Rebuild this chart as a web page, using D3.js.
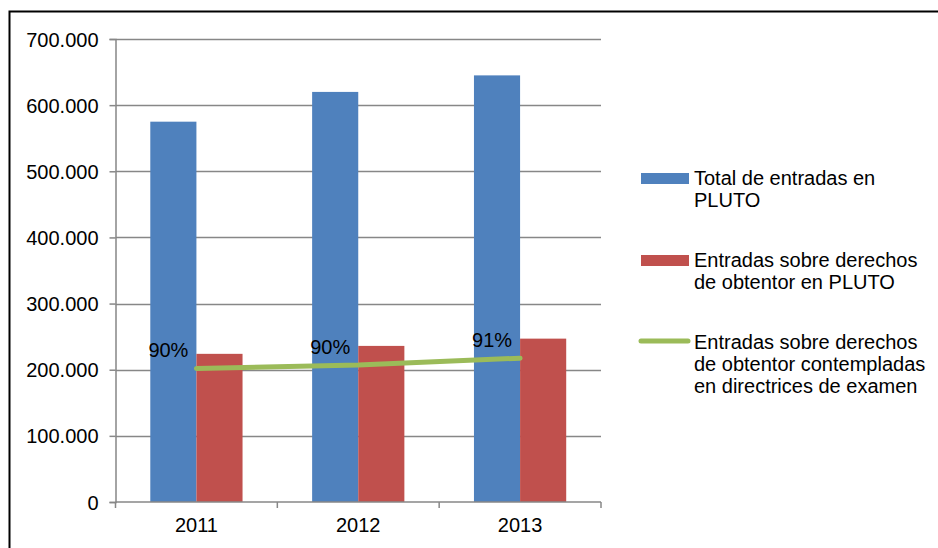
<!DOCTYPE html>
<html>
<head>
<meta charset="utf-8">
<script src="https://cdn.jsdelivr.net/npm/d3@7"></script>
<style>
  html, body { margin: 0; padding: 0; background: #fff; }
  svg { display: block; font-family: "Liberation Sans", Arial, sans-serif; }
</style>
</head>
<body>
<svg id="chart" width="938" height="548"></svg>
<script>
// ---- data ----
const years = ["2011", "2012", "2013"];
const totalEntries = [575000, 620000, 645000];
const pbrEntries = [224000, 236000, 247000];
const tgEntries = [202000, 207000, 217500];
const tgLabels = ["90%", "90%", "91%"];
const yTicks = [0, 100000, 200000, 300000, 400000, 500000, 600000, 700000];
const legendLabels = [
  ["Total de entradas en", "PLUTO"],
  ["Entradas sobre derechos", "de obtentor en PLUTO"],
  ["Entradas sobre derechos", "de obtentor contempladas", "en directrices de examen"]
];

const colors = { blue: "#4F81BD", red: "#C0504D", green: "#9BBB59", grid: "#878787" };

const svg = d3.select("#chart");

// outer frame (top & left visible, clipped at right/bottom)
svg.append("rect")
  .attr("x", 9.5).attr("y", 11.5)
  .attr("width", 1000).attr("height", 1000)
  .attr("fill", "none").attr("stroke", "#000").attr("stroke-width", 2);

const plot = { left: 115.5, right: 601, top: 39, bottom: 502 };

const y = d3.scaleLinear().domain([0, 700000]).range([plot.bottom, plot.top]);
const x0 = d3.scaleBand().domain(years).range([plot.left, plot.right]).padding(0);
const bw = x0.bandwidth();
const groupW = bw * 0.57;
const x1 = d3.scaleBand().domain(["total", "pbr"]).range([0, groupW]).padding(0);
const offset = (bw - groupW) / 2;

const fmt = v => d3.format(",")(v).replace(/,/g, ".");

// gridlines
svg.append("g").selectAll("line").data(yTicks.filter(d => d > 0)).join("line")
  .attr("x1", plot.left).attr("x2", plot.right)
  .attr("y1", d => Math.round(y(d)) + 0.5).attr("y2", d => Math.round(y(d)) + 0.5)
  .attr("stroke", colors.grid).attr("stroke-width", 1.5);

// y axis
const yAxis = d3.axisLeft(y).tickValues(yTicks).tickSize(6).tickPadding(11).tickFormat(fmt);
const gy = svg.append("g").attr("transform", `translate(${plot.left},0)`).call(yAxis);
gy.select(".domain").attr("stroke", colors.grid).attr("stroke-width", 1.5);
gy.selectAll(".tick line").attr("stroke", colors.grid).attr("stroke-width", 1.5);
gy.selectAll(".tick text").attr("font-size", 20).attr("fill", "#000")
  .attr("font-family", "Liberation Sans, Arial, sans-serif").attr("dy", "0.35em");

// bars
const barData = [];
years.forEach((yr, i) => {
  barData.push({ yr, key: "total", v: totalEntries[i], c: colors.blue });
  barData.push({ yr, key: "pbr", v: pbrEntries[i], c: colors.red });
});
svg.append("g").selectAll("rect").data(barData).join("rect")
  .attr("x", d => x0(d.yr) + offset + x1(d.key))
  .attr("width", x1.bandwidth())
  .attr("y", d => y(d.v))
  .attr("height", d => y(0) - y(d.v))
  .attr("fill", d => d.c);

// x axis
const xAxis = d3.axisBottom(x0).tickSize(0).tickPadding(16);
const gx = svg.append("g").attr("transform", `translate(0,${plot.bottom})`).call(xAxis);
gx.select(".domain").remove();
gx.append("line").attr("x1", plot.left).attr("x2", plot.right).attr("y1", 0).attr("y2", 0)
  .attr("stroke", colors.grid).attr("stroke-width", 1.5);
gx.selectAll(".catTick").data(years.concat(["end"])).join("line")
  .attr("class", "catTick")
  .attr("x1", (d, i) => i < years.length ? x0(d) : plot.right)
  .attr("x2", (d, i) => i < years.length ? x0(d) : plot.right)
  .attr("y1", 0).attr("y2", 6)
  .attr("stroke", colors.grid).attr("stroke-width", 1.5);
gx.selectAll(".tick text").attr("font-size", 20).attr("fill", "#000")
  .attr("font-family", "Liberation Sans, Arial, sans-serif");

// line series
const cx = yr => x0(yr) + bw / 2;
const lineGen = d3.line().x((d, i) => cx(years[i])).y(d => y(d));
svg.append("path").datum(tgEntries)
  .attr("d", lineGen)
  .attr("fill", "none").attr("stroke", colors.green)
  .attr("stroke-width", 5).attr("stroke-linecap", "round").attr("stroke-linejoin", "round");

// data labels
svg.append("g").selectAll("text").data(tgEntries).join("text")
  .attr("x", (d, i) => cx(years[i]) - 8)
  .attr("y", (d, i) => y(d) - 11.5)
  .attr("text-anchor", "end")
  .attr("font-size", 20).attr("fill", "#000")
  .text((d, i) => tgLabels[i]);

// legend
const legendItems = [
  { type: "rect", c: colors.blue, lines: legendLabels[0], base: 185 },
  { type: "rect", c: colors.red, lines: legendLabels[1], base: 267 },
  { type: "line", c: colors.green, lines: legendLabels[2], base: 349 }
];
const lg = svg.append("g");
legendItems.forEach(it => {
  if (it.type === "rect") {
    lg.append("rect").attr("x", 641).attr("y", it.base - 12).attr("width", 48).attr("height", 11).attr("fill", it.c);
  } else {
    lg.append("line").attr("x1", 641).attr("x2", 688).attr("y1", it.base - 8).attr("y2", it.base - 8)
      .attr("stroke", it.c).attr("stroke-width", 5).attr("stroke-linecap", "round");
  }
  const t = lg.append("text").attr("x", 694).attr("y", it.base).attr("font-size", 20).attr("fill", "#000");
  it.lines.forEach((l, j) => {
    t.append("tspan").attr("x", 694).attr("y", it.base + j * 22).text(l);
  });
});
</script>
</body>
</html>
